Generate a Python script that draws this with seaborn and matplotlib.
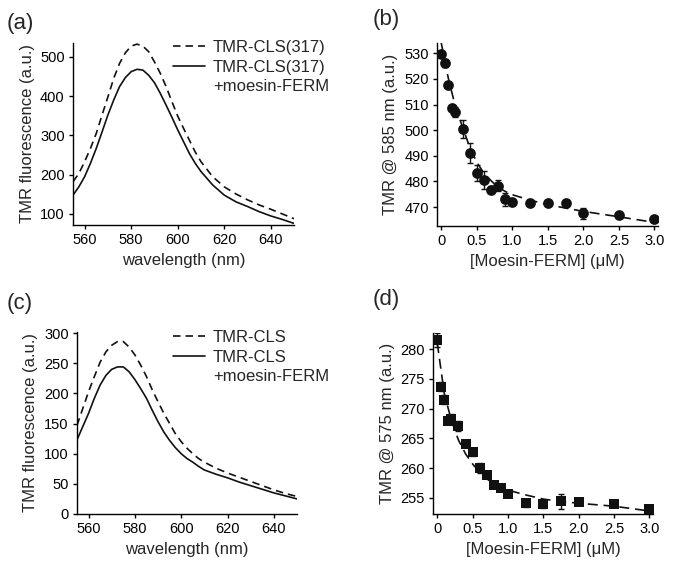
import matplotlib
matplotlib.use('Agg')
import matplotlib.pyplot as plt
from matplotlib.lines import Line2D
import seaborn as sns
import pandas as pd

# -------------------------
# DATA
# -------------------------
wavelength = [555, 557.5, 560, 562.5, 565, 567.5, 570, 572.5, 575, 577.5, 580,
              582.5, 585, 587.5, 590, 592.5, 595, 597.5, 600, 602.5, 605, 607.5,
              610, 615, 620, 625, 630, 635, 640, 645, 650]

# (a) TMR-CLS(317)
a_free = [182, 203, 233, 267, 305, 352, 398, 445, 483, 510, 527,
          532, 527, 513, 487, 458, 424, 386, 349, 318, 288, 258,
          233, 195, 169, 151, 136, 123, 112, 100, 88]
a_ferm = [148, 169, 195, 229, 267, 309, 352, 390, 424, 447, 462,
          468, 466, 453, 434, 407, 377, 346, 314, 284, 254, 229,
          208, 174, 148, 131, 119, 106, 95, 86, 76]

# (c) TMR-CLS
c_free = [147, 175, 203, 228, 252, 269, 280, 286, 286, 277, 264,
          247, 228, 206, 186, 167, 150, 133, 120, 109, 100, 92,
          86, 76, 68, 61, 54, 47, 40, 34, 29]
c_ferm = [123, 145, 167, 192, 214, 230, 240, 244, 244, 236, 223,
          208, 192, 172, 153, 136, 122, 110, 100, 92, 86, 79,
          73, 66, 60, 53, 47, 41, 35, 30, 25]

# titrations
conc = [0, 0.05, 0.1, 0.15, 0.2, 0.3, 0.4, 0.5, 0.6, 0.7, 0.8, 0.9, 1.0,
        1.25, 1.5, 1.75, 2.0, 2.5, 3.0]

b_val = [529.7, 526.3, 517.8, 508.7, 507.1, 500.3, 491.0, 483.3, 480.6, 476.8,
         478.4, 473.1, 471.8, 471.6, 471.7, 471.4, 467.5, 467.0, 465.3]
b_err = [0.5, 1.5, 0.5, 0.5, 2.0, 3.5, 4.0, 3.0, 3.5, 1.5,
         2.0, 2.5, 0.5, 0.5, 0.5, 1.5, 2.0, 1.0, 1.0]

d_val = [281.5, 273.7, 271.5, 267.9, 268.3, 267.1, 264.1, 262.7, 260.0, 258.9,
         257.2, 256.7, 255.7, 254.1, 254.0, 254.4, 254.3, 254.0, 253.1]
d_err = [1.2, 0.8, 0.8, 0.4, 0.8, 0.8, 0.4, 0.7, 0.8, 0.6,
         0.6, 0.6, 0.6, 0.7, 0.7, 1.2, 0.3, 0.5, 0.3]

# fitted binding curves (dashed)
fit_x = [0, 0.1, 0.2, 0.3, 0.4, 0.5, 0.6, 0.7, 0.8, 0.9, 1.0,
         1.25, 1.5, 1.75, 2.0, 2.5, 3.0]
b_fit = [534.0, 520.2, 509.1, 501.2, 493.4, 487.5, 483.2, 480.3, 477.7, 476.1,
         474.8, 472.7, 470.9, 469.6, 468.3, 466.2, 464.0]
d_fit = [281.0, 272.5, 268.0, 264.7, 262.4, 260.7, 259.3, 258.2, 257.4, 256.8,
         256.3, 255.5, 254.8, 254.4, 254.1, 253.6, 252.8]

conc_ticks = [0, 0.5, 1.0, 1.5, 2.0, 2.5, 3.0]
conc_labels = ['0', '0.5', '1.0', '1.5', '2.0', '2.5', '3.0']

# -------------------------
# STYLE
# -------------------------
sns.set_style('ticks')
plt.rcParams['font.family'] = ['Liberation Sans', 'DejaVu Sans']
plt.rcParams['axes.linewidth'] = 1.0
plt.rcParams['xtick.major.size'] = 3
plt.rcParams['ytick.major.size'] = 3
plt.rcParams['xtick.major.width'] = 1.0
plt.rcParams['ytick.major.width'] = 1.0
plt.rcParams['xtick.labelsize'] = 10.5
plt.rcParams['ytick.labelsize'] = 10.5
plt.rcParams['axes.labelsize'] = 12
plt.rcParams['axes.edgecolor'] = 'black'
plt.rcParams['xtick.color'] = 'black'
plt.rcParams['ytick.color'] = 'black'

ink = '#111111'
fig = plt.figure(figsize=(6.73, 5.69), dpi=100)

ax_a = fig.add_axes([0.1085, 0.6046, 0.3284, 0.3199])
ax_b = fig.add_axes([0.6493, 0.6028, 0.3284, 0.3216])
ax_c = fig.add_axes([0.1144, 0.0967, 0.3269, 0.3199])
ax_d = fig.add_axes([0.6434, 0.0967, 0.3269, 0.3181])


def spectrum(ax, free, ferm, lab_free, ylim, yticks, leg_y):
    df = pd.DataFrame({'wl': wavelength, 'free': free, 'ferm': ferm})
    sns.lineplot(data=df, x='wl', y='free', ax=ax, color=ink, lw=1.2)
    ax.lines[-1].set_dashes((4.5, 3))
    sns.lineplot(data=df, x='wl', y='ferm', ax=ax, color=ink, lw=1.2)
    ax.set_xlim(555, 650)
    ax.set_ylim(*ylim)
    ax.set_xticks([560, 580, 600, 620, 640])
    ax.set_yticks(yticks)
    ax.set_xlabel('wavelength (nm)')
    ax.set_ylabel('TMR fluorescence (a.u.)')
    handles = [Line2D([], [], color=ink, lw=1.2, dashes=(4.5, 3)),
               Line2D([], [], color=ink, lw=1.2),
               Line2D([], [], color='none')]
    labels = [lab_free, lab_free, '+moesin-FERM']
    ax.legend(handles, labels, loc='upper left', frameon=False, fontsize=12,
              bbox_to_anchor=(173 / 673, leg_y), bbox_transform=fig.transFigure,
              borderpad=0, borderaxespad=0, handlelength=1.95,
              handletextpad=0.45, labelspacing=0.28)


def titration(ax, val, err, fit, marker, ms, ylim, yticks, ylabel):
    sns.lineplot(x=fit_x, y=fit, ax=ax, color=ink, lw=1.2)
    ax.lines[-1].set_dashes((6, 3.5))
    ax.errorbar(conc, val, yerr=err, fmt='none', ecolor=ink, elinewidth=1.0,
                capsize=2.5, capthick=1.0, zorder=3)
    sns.scatterplot(x=conc, y=val, ax=ax, marker=marker, s=ms, color=ink,
                    edgecolor=ink, linewidth=0, zorder=4)
    ax.set_xlim(-0.06, 3.05)
    ax.set_ylim(*ylim)
    ax.set_xticks(conc_ticks)
    ax.set_xticklabels(conc_labels)
    ax.set_yticks(yticks)
    ax.set_xlabel('[Moesin-FERM] (μM)')
    ax.set_ylabel(ylabel)


spectrum(ax_a, a_free, a_ferm, 'TMR-CLS(317)', (72, 535),
         [100, 200, 300, 400, 500], 1 - 40 / 569)
spectrum(ax_c, c_free, c_ferm, 'TMR-CLS', (0, 302),
         [0, 50, 100, 150, 200, 250, 300], 1 - 330 / 569)
titration(ax_b, b_val, b_err, b_fit, 'o', 60, (462.6, 534),
          [470, 480, 490, 500, 510, 520, 530], 'TMR @ 585 nm (a.u.)')
titration(ax_d, d_val, d_err, d_fit, 's', 50, (252.3, 282.7),
          [255, 260, 265, 270, 275, 280], 'TMR @ 575 nm (a.u.)')

for ax in [ax_a, ax_b, ax_c, ax_d]:
    sns.despine(ax=ax)
    ax.tick_params(pad=3)

# panel letters
for lab, x, y in [('(a)', 7, 24), ('(b)', 373, 20), ('(c)', 7, 303), ('(d)', 373, 300)]:
    fig.text(x / 673, 1 - y / 569, lab, fontsize=16, ha='left', va='center')

fig.savefig('out.png', dpi=100)
